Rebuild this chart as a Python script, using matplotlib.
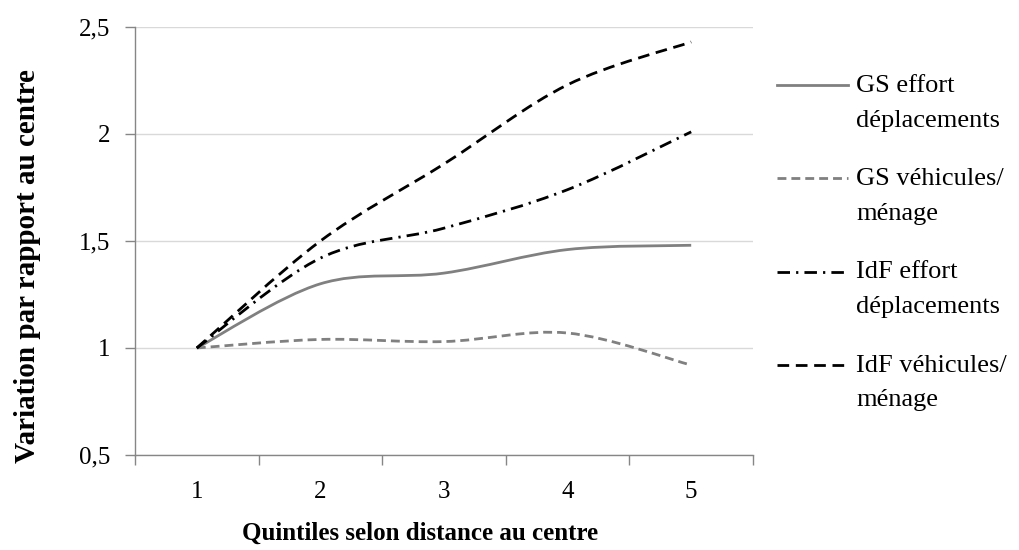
import numpy as np
import matplotlib
matplotlib.use('Agg')
import matplotlib.pyplot as plt
from matplotlib.path import Path
from matplotlib.patches import PathPatch
from matplotlib.lines import Line2D
from matplotlib.legend_handler import HandlerLine2D

quintiles = [1, 2, 3, 4, 5]
gs_effort = [1, 1.30, 1.35, 1.46, 1.48]
gs_vehicules = [1, 1.04, 1.03, 1.07, 0.92]
idf_effort = [1, 1.42, 1.56, 1.74, 2.01]
idf_vehicules = [1, 1.50, 1.86, 2.23, 2.43]
noms = ['GS effort\ndéplacements', 'GS véhicules/\nménage',
        'IdF effort\ndéplacements', 'IdF véhicules/\nménage']
yticks = [0.5, 1, 1.5, 2, 2.5]
ylabels = ['0,5', '1', '1,5', '2', '2,5']

plt.rcParams['font.family'] = ['Liberation Serif', 'DejaVu Serif']
plt.rcParams['font.size'] = 18

GRIS_AXE = '#868686'


def courbe_lissee(x, y, t=1 / 6):
    # courbe de Bezier type "lissage" Excel
    pts = np.column_stack([x, y]).astype(float)
    n = len(pts)
    verts = [pts[0]]
    codes = [Path.MOVETO]
    for i in range(n - 1):
        p0 = pts[max(i - 1, 0)]
        p1 = pts[i]
        p2 = pts[i + 1]
        p3 = pts[min(i + 2, n - 1)]
        verts += [p1 + (p2 - p0) * t, p2 - (p3 - p1) * t, p2]
        codes += [Path.CURVE4] * 3
    return Path(verts, codes)


class HandlerHaut(HandlerLine2D):
    # trait de legende aligne sur la premiere ligne du texte
    def create_artists(self, legend, orig_handle, xdescent, ydescent,
                       width, height, fontsize, trans):
        return super().create_artists(legend, orig_handle, xdescent,
                                      ydescent - 25, width, height,
                                      fontsize, trans)


series = [
    (gs_effort, '#808080', '-'),
    (gs_vehicules, '#808080', (0, (3.2, 1.8))),
    (idf_effort, 'black', (0, (4.5, 2.2, 0.8, 2.2))),
    (idf_vehicules, 'black', (0, (4.2, 2.4))),
]

fig = plt.figure(figsize=(10.19, 5.5), dpi=100)
ax = fig.add_axes([135 / 1019, 95 / 550, 618 / 1019, 428 / 550])

handles = []
for vals, coul, style in series:
    patch = PathPatch(courbe_lissee(quintiles, vals), fill=False,
                      edgecolor=coul, linestyle=style, linewidth=2,
                      capstyle='butt', zorder=3)
    ax.add_patch(patch)
    handles.append(Line2D([], [], color=coul, linestyle=style, linewidth=2))

ax.set_xlim(0.5, 5.5)
ax.set_ylim(0.5, 2.5)

ax.set_yticks(yticks)
ax.set_yticklabels(ylabels)
ax.set_xticks(np.arange(0.5, 6, 1))
ax.set_xticklabels([])
ax.set_xticks(quintiles, minor=True)
ax.set_xticklabels([str(q) for q in quintiles], minor=True)

ax.tick_params(axis='x', which='major', length=7, width=1, color=GRIS_AXE)
ax.tick_params(axis='x', which='minor', length=0, pad=19)
ax.tick_params(axis='y', length=7, width=1, color=GRIS_AXE, pad=11)

ax.grid(axis='y', color='#d9d9d9', linewidth=1)
ax.set_axisbelow(True)
for s in ['top', 'right']:
    ax.spines[s].set_visible(False)
for s in ['left', 'bottom']:
    ax.spines[s].set_color(GRIS_AXE)
    ax.spines[s].set_linewidth(1)

fig.text(28 / 1019, 1 - 266 / 550, 'Variation par rapport au centre',
         rotation=90, ha='center', va='center', fontweight='bold',
         fontsize=21)
fig.text(420 / 1019, 1 - 533 / 550, 'Quintiles selon distance au centre',
         ha='center', va='center', fontweight='bold', fontsize=18)

leg = ax.legend(handles, noms, loc='upper left',
                bbox_to_anchor=(777 / 1019, 1 - 75 / 550),
                bbox_transform=fig.transFigure, frameon=False,
                borderpad=0, borderaxespad=0, handlelength=2.7,
                handletextpad=0.3, labelspacing=1.38, fontsize=19,
                handler_map={Line2D: HandlerHaut()})
for txt in leg.get_texts():
    txt.set_linespacing(1.75)

fig.savefig('out.png', dpi=100)
